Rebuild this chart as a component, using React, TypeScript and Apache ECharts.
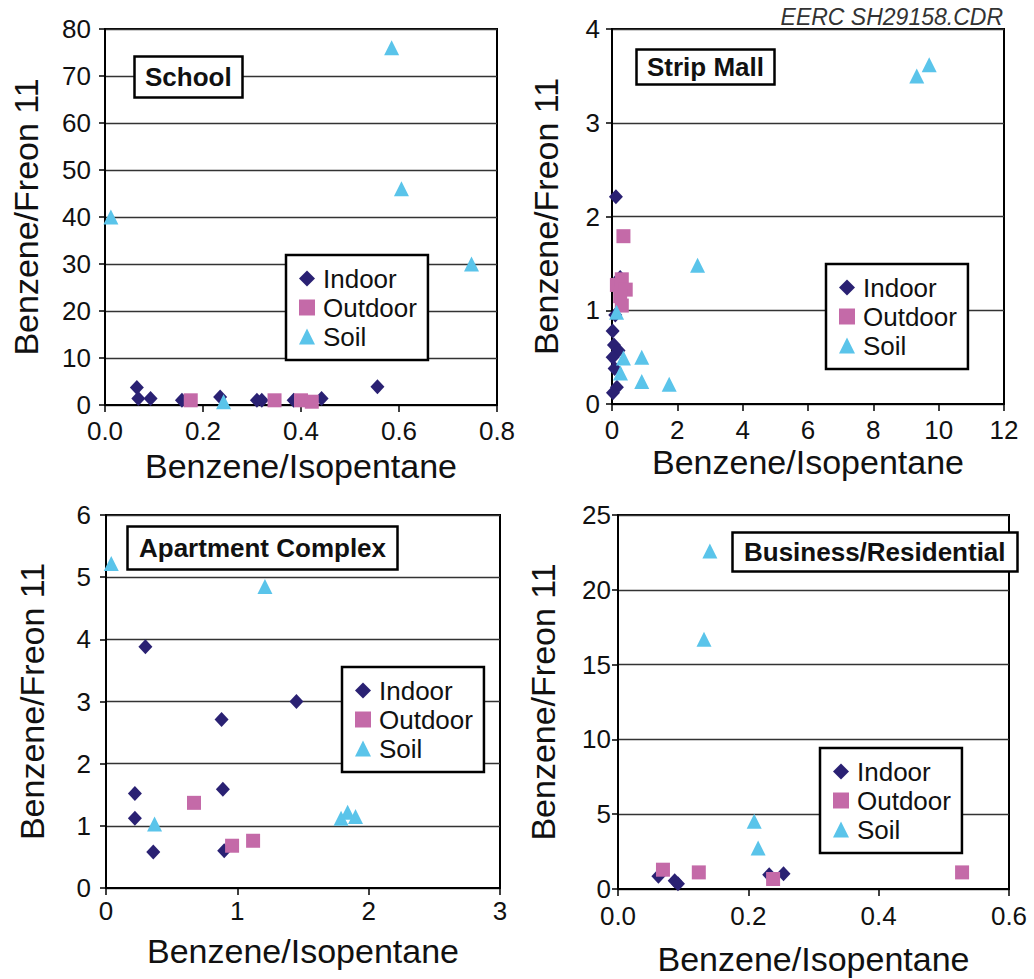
import React, { useEffect, useRef } from "react";
import * as echarts from "echarts";

// Benzene/Isopentane (x) vs Benzene/Freon 11 (y) ratios for four sites
const schoolIndoor = [[0.065, 3.7], [0.068, 1.4], [0.093, 1.4], [0.157, 1.0], [0.235, 1.7], [0.31, 1.0], [0.32, 1.0], [0.385, 1.0], [0.442, 1.4], [0.556, 3.9]];
const schoolOutdoor = [[0.175, 1.0], [0.346, 1.0], [0.4, 1.0], [0.422, 0.7]];
const schoolSoil = [[0.012, 40], [0.242, 0.7], [0.585, 76], [0.605, 46], [0.748, 30]];

const stripIndoor = [[0.12, 2.21], [0.02, 0.78], [0.06, 0.63], [0.2, 0.57], [0.02, 0.5], [0.08, 0.38], [0.15, 0.18], [0.03, 0.12], [0.1, 0.95], [0.25, 1.35]];
const stripOutdoor = [[0.35, 1.79], [0.15, 1.27], [0.3, 1.33], [0.42, 1.22], [0.25, 1.15], [0.3, 1.05]];
const stripSoil = [[9.33, 3.5], [9.71, 3.62], [2.62, 1.48], [0.14, 0.98], [0.35, 0.49], [0.91, 0.5], [0.26, 0.33], [0.91, 0.24], [1.75, 0.21]];

const aptIndoor = [[0.3, 3.88], [1.45, 3.0], [0.88, 2.71], [0.89, 1.59], [0.22, 1.52], [0.22, 1.12], [0.36, 0.58], [0.9, 0.6]];
const aptOutdoor = [[0.67, 1.37], [0.96, 0.68], [1.12, 0.76]];
const aptSoil = [[0.04, 5.22], [1.21, 4.85], [0.37, 1.03], [1.79, 1.12], [1.84, 1.22], [1.9, 1.15]];

const busIndoor = [[0.062, 0.85], [0.087, 0.55], [0.092, 0.35], [0.232, 0.96], [0.254, 1.02]];
const busOutdoor = [[0.069, 1.29], [0.124, 1.11], [0.238, 0.67], [0.528, 1.11]];
const busSoil = [[0.141, 22.6], [0.132, 16.7], [0.209, 4.53], [0.215, 2.74]];

const seriesNames = ["Indoor", "Outdoor", "Soil"];
const siteNames = ["School", "Strip Mall", "Apartment Complex", "Business/Residential"];
const xTitle = "Benzene/Isopentane";
const yTitle = "Benzene/Freon 11";
const stamp = "EERC SH29158.CDR";

// axis ranges: [min, max, interval, decimals]
const xRanges = [[0, 0.8, 0.2, 1], [0, 12, 2, 0], [0, 3, 1, 0], [0, 0.6, 0.2, 1]];
const yRanges = [[0, 80, 10], [0, 4, 1], [0, 6, 1], [0, 25, 5]];

const FONT = "'Liberation Sans', Arial, Helvetica, sans-serif";
const INK = "#111";
const COLORS = ["#2a2173", "#c46aa8", "#5ac4ea"];
const SYMBOLS = ["diamond", "rect", "triangle"];
const SYMBOL_SIZES: any[] = [[14, 15], 14, 15];

const panelData = [
  [schoolIndoor, schoolOutdoor, schoolSoil],
  [stripIndoor, stripOutdoor, stripSoil],
  [aptIndoor, aptOutdoor, aptSoil],
  [busIndoor, busOutdoor, busSoil],
];

// layout of each panel
const grids = [
  { left: 105, top: 29, width: 392, height: 376 },
  { left: 612, top: 29, width: 392, height: 375 },
  { left: 106, top: 515, width: 394, height: 373 },
  { left: 618, top: 515, width: 391, height: 374 },
];
const yNameGap = [62, 49, 57, 58];
const yLabelMargin = [14, 12, 15, 7];
const xNameGap = [44, 41, 46, 53];
const xLabelMargin = [13, 13, 10, 14];
const legendPos = [
  { left: 286, top: 255 },
  { left: 826, top: 264 },
  { left: 342, top: 667 },
  { left: 820, top: 748 },
];
const titleBoxes = [
  { left: 134, top: 56, padding: [8, 11] },
  { left: 636, top: 49, padding: [5, 11] },
  { left: 127, top: 526, padding: [9, 12] },
  { left: 732, top: 532, padding: [7, 12] },
];

export default function App() {
  const ref = useRef<HTMLDivElement>(null);

  useEffect(() => {
    if (!ref.current) return;
    const chart = echarts.init(ref.current, undefined, { renderer: "svg" });

    const xAxis = xRanges.map((r, i) => ({
      type: "value",
      gridIndex: i,
      min: r[0],
      max: r[1],
      interval: r[2],
      name: xTitle,
      nameLocation: "middle",
      nameGap: xNameGap[i],
      nameTextStyle: { fontFamily: FONT, fontSize: 34, color: INK },
      axisLine: { show: true, onZero: false, lineStyle: { color: "#000", width: 2 } },
      axisTick: { show: true, length: 7, lineStyle: { color: "#000", width: 1.5 } },
      axisLabel: {
        margin: xLabelMargin[i],
        fontFamily: FONT,
        fontSize: 26,
        color: INK,
        formatter: (v: number) => v.toFixed(r[3]),
      },
      splitLine: { show: false },
    }));

    const yAxis = yRanges.map((r, i) => ({
      type: "value",
      gridIndex: i,
      min: r[0],
      max: r[1],
      interval: r[2],
      name: yTitle,
      nameLocation: "middle",
      nameGap: yNameGap[i],
      nameRotate: 90,
      nameTextStyle: { fontFamily: FONT, fontSize: 34, color: INK },
      axisLine: { show: true, onZero: false, lineStyle: { color: "#000", width: 2 } },
      axisTick: { show: true, length: 6, lineStyle: { color: "#000", width: 1.5 } },
      axisLabel: { margin: yLabelMargin[i], fontFamily: FONT, fontSize: 26, color: INK },
      splitLine: { show: true, lineStyle: { color: "#333", width: 1.4 } },
    }));

    const series: any[] = [];
    panelData.forEach((sets, p) => {
      sets.forEach((data, k) => {
        series.push({
          type: "scatter",
          name: seriesNames[k],
          xAxisIndex: p,
          yAxisIndex: p,
          data,
          symbol: SYMBOLS[k],
          symbolSize: SYMBOL_SIZES[k],
          itemStyle: { color: COLORS[k], opacity: 1 },
          z: 3 + k,
        });
      });
    });

    const legend = legendPos.map((pos) => ({
      ...pos,
      orient: "vertical",
      data: seriesNames,
      selectedMode: false,
      backgroundColor: "#fff",
      borderColor: "#000",
      borderWidth: 2.5,
      borderRadius: 0,
      padding: [9, 11, 9, 13],
      itemWidth: 16,
      itemHeight: 16,
      itemGap: 0,
      textStyle: { fontFamily: FONT, fontSize: 26, color: INK, lineHeight: 29, padding: [0, 0, 0, 3] },
    }));

    const title: any[] = siteNames.map((name, i) => ({
      text: name,
      left: titleBoxes[i].left,
      top: titleBoxes[i].top,
      padding: titleBoxes[i].padding,
      backgroundColor: "#fff",
      borderColor: "#000",
      borderWidth: 2.5,
      textStyle: { fontFamily: FONT, fontSize: 26, fontWeight: "bold", color: INK },
    }));
    title.push({
      text: stamp,
      right: 31,
      top: 5,
      padding: 0,
      textStyle: { fontFamily: FONT, fontSize: 23, fontStyle: "italic", fontWeight: "normal", color: "#333" },
    });

    chart.setOption({
      animation: false,
      backgroundColor: "#fff",
      textStyle: { fontFamily: FONT },
      grid: grids.map((g) => ({ ...g, show: true, borderColor: "#000", borderWidth: 2, backgroundColor: "transparent", containLabel: false })),
      xAxis,
      yAxis,
      legend,
      title,
      series,
    });

    return () => chart.dispose();
  }, []);

  return (
    <div
      ref={ref}
      style={{ position: "fixed", left: 0, top: 0, width: 1034, height: 979, background: "#fff" }}
    />
  );
}
